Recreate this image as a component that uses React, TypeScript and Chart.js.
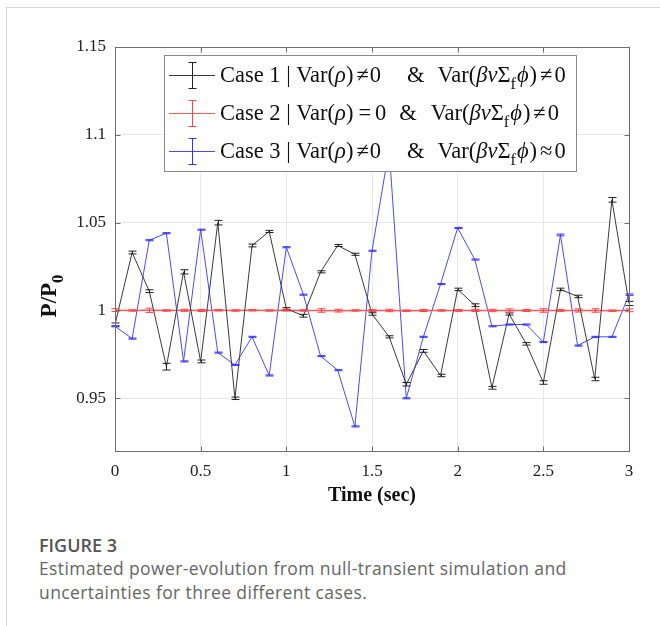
import React, { useEffect, useRef } from "react";
import { Chart, registerables } from "chart.js";

Chart.register(...registerables);

// ---------- data ----------
const timeSec = [0, 0.1, 0.2, 0.3, 0.4, 0.5, 0.6, 0.7, 0.8, 0.9, 1.0, 1.1, 1.2, 1.3, 1.4, 1.5, 1.6, 1.7, 1.8, 1.9, 2.0, 2.1, 2.2, 2.3, 2.4, 2.5, 2.6, 2.7, 2.8, 2.9, 3.0];

const case1 = [0.992, 1.033, 1.011, 0.968, 1.022, 0.971, 1.050, 0.950, 1.037, 1.045, 1.001, 0.997, 1.022, 1.037, 1.032, 0.998, 0.985, 0.958, 0.977, 0.963, 1.012, 1.003, 0.956, 0.998, 0.981, 0.959, 1.012, 1.008, 0.961, 1.063, 1.004];
const case1Err = [0.0009, 0.0008, 0.0008, 0.0019, 0.0012, 0.0008, 0.0013, 0.0007, 0.0008, 0.0006, 0.0006, 0.0008, 0.0006, 0.0006, 0.0006, 0.0007, 0.0006, 0.0010, 0.0008, 0.0007, 0.0007, 0.0008, 0.0008, 0.0006, 0.0007, 0.0010, 0.0007, 0.0007, 0.0010, 0.0013, 0.0012];

const case2 = [1.0002, 1.0, 1.0001, 1.0, 1.0001, 1.0, 1.0001, 1.0, 1.0001, 1.0, 1.0002, 1.0, 1.0, 0.9999, 1.0, 1.0, 1.0, 0.9999, 1.0, 1.0, 1.0, 1.0, 1.0, 1.0, 1.0, 1.0, 1.0, 1.0, 1.0, 0.9999, 1.0001];
const case2Err = [0.0008, 0.0004, 0.0012, 0.0004, 0.0006, 0.0006, 0.0004, 0.0004, 0.0004, 0.0004, 0.0005, 0.0004, 0.0010, 0.0008, 0.0004, 0.0006, 0.0007, 0.0004, 0.0006, 0.0004, 0.0005, 0.0006, 0.0007, 0.0009, 0.0006, 0.0010, 0.0005, 0.0009, 0.0010, 0.0004, 0.0008];

const case3 = [0.991, 0.984, 1.040, 1.044, 0.971, 1.046, 0.976, 0.969, 0.985, 0.963, 1.036, 1.009, 0.974, 0.966, 0.934, 1.034, 1.092, 0.950, 0.985, 1.015, 1.047, 1.029, 0.991, 0.992, 0.992, 0.982, 1.043, 0.980, 0.985, 0.985, 1.009];
const case3Err = [0.0003, 0.0003, 0.0003, 0.0003, 0.0003, 0.0003, 0.0003, 0.0003, 0.0003, 0.0003, 0.0003, 0.0003, 0.0003, 0.0003, 0.0003, 0.0003, 0.0003, 0.0003, 0.0003, 0.0003, 0.0003, 0.0003, 0.0003, 0.0003, 0.0003, 0.0003, 0.0005, 0.0003, 0.0003, 0.0003, 0.0004];

const xTicks = [0, 0.5, 1, 1.5, 2, 2.5, 3];
const yTicks = [0.95, 1, 1.05, 1.1, 1.15];

const seriesColors = ["#3a3a3a", "#ff5a5a", "#4a4aff"];
const errColors = ["#222222", "#ff4444", "#3333ff"];

type Seg = { t?: string; it?: boolean; sub?: boolean; gap?: number };
const mathTail = (rel: string): Seg[] => [
  { t: "Var(" }, { t: "βν", it: true }, { t: "Σ" }, { t: "f", sub: true }, { gap: 1 }, { t: "ϕ", it: true }, { gap: 1 }, { t: ")" }, { gap: 3 }, { t: rel }, { gap: 2 }, { t: "0" },
];
const legendRows: Seg[][] = [
  [{ t: "Case 1 | Var(" }, { t: "ρ", it: true }, { t: ")" }, { gap: 3 }, { t: "≠" }, { gap: 1 }, { t: "0" }, { gap: 26 }, { t: "&" }, { gap: 13 }, ...mathTail("≠")],
  [{ t: "Case 2 | Var(" }, { t: "ρ", it: true }, { t: ")" }, { gap: 5 }, { t: "=" }, { gap: 4 }, { t: "0" }, { gap: 13 }, { t: "&" }, { gap: 14 }, ...mathTail("≠")],
  [{ t: "Case 3 | Var(" }, { t: "ρ", it: true }, { t: ")" }, { gap: 3 }, { t: "≠" }, { gap: 1 }, { t: "0" }, { gap: 26 }, { t: "&" }, { gap: 13 }, ...mathTail("≈")],
];

const SERIF = '"Liberation Serif", "Times New Roman", serif';

function drawRich(ctx: CanvasRenderingContext2D, segs: Seg[], x: number, y: number, size: number, bold = false, draw = true) {
  let cx = x;
  for (const s of segs) {
    if (s.gap !== undefined) { cx += s.gap; continue; }
    const t = s.t || "";
    const fs = s.sub ? size * 0.72 : size;
    ctx.font = `${s.it ? "italic " : ""}${bold ? "bold " : ""}${fs}px ${SERIF}`;
    if (draw) ctx.fillText(t, cx, y + (s.sub ? size * 0.32 : 0));
    cx += ctx.measureText(t).width;
  }
  return cx - x;
}

const decorPlugin = {
  id: "matlabDecor",
  afterDatasetsDraw(chart: any) {
    const ctx: CanvasRenderingContext2D = chart.ctx;
    const xs = chart.scales.x;
    const ys = chart.scales.y;
    const area = chart.chartArea;
    const vals = [case1, case2, case3];
    const errs = [case1Err, case2Err, case3Err];
    ctx.save();
    // error bars
    for (let d = 0; d < 3; d++) {
      ctx.strokeStyle = errColors[d];
      ctx.lineWidth = 1;
      ctx.beginPath();
      for (let j = 0; j < timeSec.length; j++) {
        const px = Math.round(xs.getPixelForValue(timeSec[j])) + 0.5;
        const yt = ys.getPixelForValue(vals[d][j] + errs[d][j]);
        const yb = ys.getPixelForValue(vals[d][j] - errs[d][j]);
        ctx.moveTo(px, yt);
        ctx.lineTo(px, yb);
        ctx.moveTo(px - 4, yt);
        ctx.lineTo(px + 4, yt);
        ctx.moveTo(px - 4, yb);
        ctx.lineTo(px + 4, yb);
      }
      ctx.stroke();
    }
    // axes box
    ctx.strokeStyle = "#6e6e6e";
    ctx.lineWidth = 1;
    const L = Math.round(area.left) + 0.5;
    const R = Math.round(area.right) + 0.5;
    const T = Math.round(area.top) + 0.5;
    const B = Math.round(area.bottom) + 0.5;
    ctx.strokeRect(L, T, R - L, B - T);
    ctx.beginPath();
    for (const v of xTicks) {
      const px = Math.round(xs.getPixelForValue(v)) + 0.5;
      ctx.moveTo(px, B);
      ctx.lineTo(px, B - 5);
      ctx.moveTo(px, T);
      ctx.lineTo(px, T + 5);
    }
    for (const v of yTicks) {
      const py = Math.round(ys.getPixelForValue(v)) + 0.5;
      ctx.moveTo(L, py);
      ctx.lineTo(L + 5, py);
      ctx.moveTo(R, py);
      ctx.lineTo(R - 5, py);
    }
    ctx.stroke();

    // axis titles
    ctx.fillStyle = "#111";
    ctx.textBaseline = "alphabetic";
    ctx.font = `bold 20px ${SERIF}`;
    ctx.textAlign = "center";
    ctx.fillText("Time (sec)", (area.left + area.right) / 2, 501);
    ctx.textAlign = "left";
    ctx.save();
    ctx.translate(56, 296);
    ctx.rotate(-Math.PI / 2);
    const ysegs: Seg[] = [{ t: "P/P" }, { t: "0", sub: true }];
    const yw = drawRich(ctx, ysegs, 0, 0, 23, true, false);
    drawRich(ctx, ysegs, -yw / 2, 0, 23, true);
    ctx.restore();

    // legend
    const lx = 164.5, ly = 55.5, lw = 412, lh = 116;
    ctx.fillStyle = "#ffffff";
    ctx.fillRect(lx, ly, lw, lh);
    ctx.strokeStyle = "#8a8a8a";
    ctx.lineWidth = 1;
    ctx.strokeRect(lx, ly, lw, lh);
    const rowY = [75, 113, 151];
    for (let r = 0; r < 3; r++) {
      const cy = rowY[r] + 0.5;
      ctx.strokeStyle = seriesColors[r];
      ctx.beginPath();
      ctx.moveTo(169, cy);
      ctx.lineTo(215, cy);
      ctx.stroke();
      ctx.strokeStyle = errColors[r];
      ctx.beginPath();
      ctx.moveTo(192.5, cy - 13);
      ctx.lineTo(192.5, cy + 13);
      ctx.moveTo(188.5, cy - 13);
      ctx.lineTo(196.5, cy - 13);
      ctx.moveTo(188.5, cy + 13);
      ctx.lineTo(196.5, cy + 13);
      ctx.stroke();
      ctx.fillStyle = "#111";
      drawRich(ctx, legendRows[r], 220, rowY[r] + 7, 22.5);
    }
    ctx.restore();
  },
};

export default function App() {
  const ref = useRef<HTMLCanvasElement | null>(null);
  useEffect(() => {
    if (!ref.current) return;
    const mk = (vals: number[]) => vals.map((v, i) => ({ x: timeSec[i], y: v }));
    const chart = new Chart(ref.current, {
      type: "line",
      data: {
        datasets: [
          { label: "Case 1", data: mk(case1), borderColor: seriesColors[0], borderWidth: 1, pointRadius: 0, tension: 0 },
          { label: "Case 2", data: mk(case2), borderColor: seriesColors[1], borderWidth: 1.5, pointRadius: 0, tension: 0 },
          { label: "Case 3", data: mk(case3), borderColor: seriesColors[2], borderWidth: 1, pointRadius: 0, tension: 0 },
        ],
      },
      options: {
        animation: false,
        responsive: false,
        maintainAspectRatio: false,
        layout: { padding: { top: 47, right: 31, left: 0, bottom: 0 } },
        plugins: { legend: { display: false }, tooltip: { enabled: false } },
        scales: {
          x: {
            type: "linear",
            min: 0,
            max: 3,
            afterBuildTicks: (s: any) => { s.ticks = xTicks.map((v) => ({ value: v })); },
            afterFit: (s: any) => { s.height = 69; },
            grid: { color: "#e9e9e9", drawTicks: false },
            border: { display: false },
            ticks: { color: "#222", padding: 10, font: { family: SERIF, size: 17 }, callback: (v: any) => String(v), maxRotation: 0 },
          },
          y: {
            type: "linear",
            min: 0.92,
            max: 1.15,
            afterBuildTicks: (s: any) => { s.ticks = yTicks.map((v) => ({ value: v })); },
            afterFit: (s: any) => { s.width = 115; },
            grid: { color: "#e9e9e9", drawTicks: false },
            border: { display: false },
            ticks: { color: "#222", padding: 9, font: { family: SERIF, size: 17 }, callback: (v: any) => String(v) },
          },
        },
      },
      plugins: [decorPlugin],
    });
    return () => chart.destroy();
  }, []);

  const capFont = '"Open Sans", "Noto Sans", sans-serif';
  return (
    <div style={{ position: "absolute", left: 0, top: 0, width: 660, height: 626, overflow: "hidden", background: "#fff" }}>
      <div style={{ position: "absolute", left: 6, top: 7, width: 654, height: 619, borderLeft: "1px solid #d6d6d6", borderTop: "1px solid #d6d6d6" }} />
      <canvas ref={ref} width={660} height={520} style={{ position: "absolute", left: 0, top: 0, width: 660, height: 520 }} />
      <div style={{ position: "absolute", left: 39, top: 533, fontFamily: capFont, fontWeight: 600, fontSize: 18, color: "#555", lineHeight: "24px" }}>FIGURE 3</div>
      <div style={{ position: "absolute", left: 39, top: 556, width: 620, fontFamily: capFont, fontSize: 17.5, letterSpacing: "0.4px", color: "#666", lineHeight: "24px", whiteSpace: "nowrap" }}>
        Estimated power-evolution from null-transient simulation and<br />uncertainties for three different cases.
      </div>
    </div>
  );
}
